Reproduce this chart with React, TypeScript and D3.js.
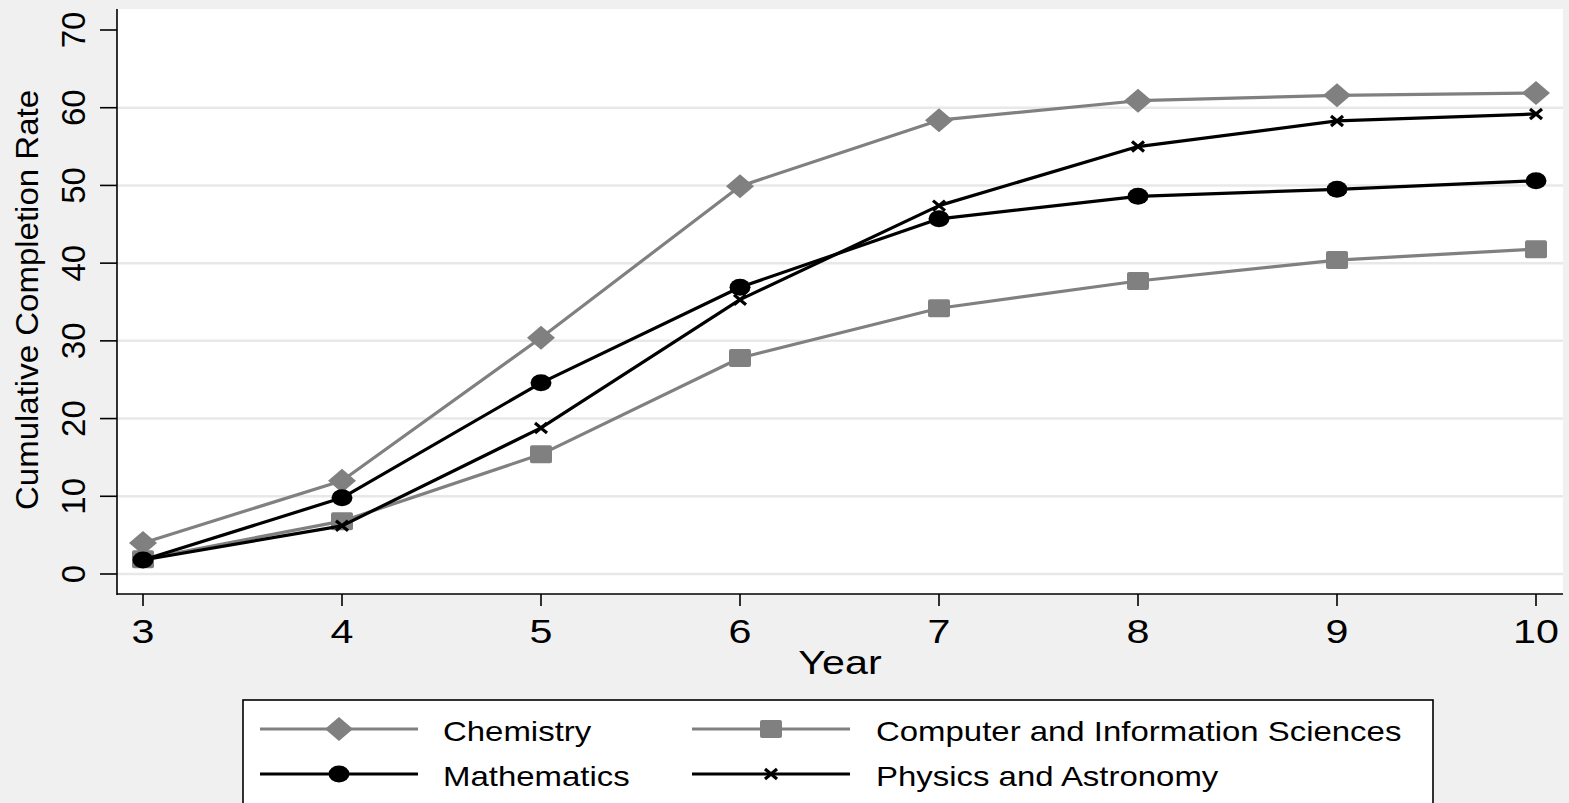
import React from 'react';
import * as d3 from 'd3';

const years = [3, 4, 5, 6, 7, 8, 9, 10];
const chemistry = [4.0, 12.0, 30.4, 49.9, 58.4, 60.9, 61.6, 61.9];
const computerSci = [1.9, 6.8, 15.4, 27.8, 34.2, 37.7, 40.4, 41.8];
const mathematics = [1.8, 9.8, 24.6, 36.9, 45.7, 48.6, 49.5, 50.6];
const physics = [1.8, 6.2, 18.8, 35.3, 47.4, 55.0, 58.3, 59.2];
const yTicks = [0, 10, 20, 30, 40, 50, 60, 70];
const gridTicks = [0, 10, 20, 30, 40, 50, 60];

type Marker = 'diamond' | 'square' | 'circle' | 'cross';

interface Series {
  name: string;
  values: number[];
  color: string;
  marker: Marker;
}

const series: Series[] = [
  { name: 'Chemistry', values: chemistry, color: '#808080', marker: 'diamond' },
  { name: 'Computer and Information Sciences', values: computerSci, color: '#808080', marker: 'square' },
  { name: 'Mathematics', values: mathematics, color: '#000000', marker: 'circle' },
  { name: 'Physics and Astronomy', values: physics, color: '#000000', marker: 'cross' },
];

const W = 1569;
const H = 803;
const plot = { left: 117, right: 1563, top: 9, bottom: 594 };
const FONT = '"Liberation Sans", Arial, Helvetica, sans-serif';
const SX = 1.25; // horizontal stretch of the original picture

function MarkerShape({ type, x, y, color }: { type: Marker; x: number; y: number; color: string }) {
  if (type === 'diamond') {
    return <path d={`M${x - 14},${y} L${x},${y - 12} L${x + 14},${y} L${x},${y + 12} Z`} fill={color} />;
  }
  if (type === 'square') {
    return <rect x={x - 11} y={y - 9} width={22} height={18} rx={2} fill={color} />;
  }
  if (type === 'circle') {
    return <ellipse cx={x} cy={y} rx={10.5} ry={8.5} fill={color} />;
  }
  return (
    <path
      d={`M${x - 6},${y - 5} L${x + 6},${y + 5} M${x - 6},${y + 5} L${x + 6},${y - 5}`}
      stroke={color}
      strokeWidth={3.2}
      fill="none"
    />
  );
}

export default function App() {
  const x = d3.scaleLinear().domain([3, 10]).range([143, 1536]);
  const y = d3.scaleLinear().domain([0, 70]).range([574, 30]);

  const line = d3
    .line<number>()
    .x((_, i) => x(years[i]))
    .y((d) => y(d));

  const legendRows = [
    { col: 0, row: 0 },
    { col: 1, row: 0 },
    { col: 0, row: 1 },
    { col: 1, row: 1 },
  ];
  const legendCols = [
    { lineX0: 260, lineX1: 418, textX: 443 },
    { lineX0: 692, lineX1: 850, textX: 876 },
  ];
  const legendRowY = [729, 774];

  return (
    <svg
      width={W}
      height={H}
      style={{ position: 'absolute', left: 0, top: 0, fontFamily: FONT }}
    >
      <rect x={0} y={0} width={W} height={H} fill="#f0f0f0" />
      <rect x={plot.left} y={plot.top} width={plot.right - plot.left} height={plot.bottom - plot.top} fill="#ffffff" />

      {/* grid */}
      {gridTicks.map((t) => (
        <line key={t} x1={plot.left} x2={plot.right} y1={y(t)} y2={y(t)} stroke="#e8e8e8" strokeWidth={2.5} />
      ))}

      {/* axes */}
      <line x1={plot.left} x2={plot.left} y1={plot.top} y2={plot.bottom + 1} stroke="#000" strokeWidth={1.6} />
      <line x1={plot.left} x2={plot.right} y1={plot.bottom} y2={plot.bottom} stroke="#000" strokeWidth={1.6} />

      {yTicks.map((t) => (
        <g key={t}>
          <line x1={100} x2={plot.left} y1={y(t)} y2={y(t)} stroke="#000" strokeWidth={1.6} />
          <text
            transform={`translate(85,${y(t)}) rotate(-90)`}
            textAnchor="middle"
            fontSize={33}
            fill="#000"
          >
            {t}
          </text>
        </g>
      ))}

      {years.map((yr) => (
        <g key={yr}>
          <line x1={x(yr)} x2={x(yr)} y1={plot.bottom} y2={plot.bottom + 12} stroke="#000" strokeWidth={1.6} />
          <text
            transform={`translate(${x(yr)},643) scale(${SX},1)`}
            textAnchor="middle"
            fontSize={33}
            fill="#000"
          >
            {yr}
          </text>
        </g>
      ))}

      <text transform={`translate(840,674) scale(${SX},1)`} textAnchor="middle" fontSize={33} fill="#000">
        Year
      </text>
      <text
        transform="translate(38,300) rotate(-90)"
        textAnchor="middle"
        fontSize={32}
        textLength={420}
        lengthAdjust="spacingAndGlyphs"
        fill="#000"
      >
        Cumulative Completion Rate
      </text>

      {/* series */}
      {series.map((s) => (
        <g key={s.name}>
          <path d={line(s.values) || ''} fill="none" stroke={s.color} strokeWidth={3.2} strokeLinejoin="round" />
          {s.values.map((v, i) => (
            <MarkerShape key={i} type={s.marker} x={x(years[i])} y={y(v)} color={s.color} />
          ))}
        </g>
      ))}

      {/* legend */}
      <rect x={243} y={700} width={1190} height={130} fill="#ffffff" stroke="#000" strokeWidth={1.6} />
      {series.map((s, i) => {
        const { col, row } = legendRows[i];
        const c = legendCols[col];
        const ly = legendRowY[row];
        const mx = (c.lineX0 + c.lineX1) / 2;
        return (
          <g key={s.name}>
            <line x1={c.lineX0} x2={c.lineX1} y1={ly} y2={ly} stroke={s.color} strokeWidth={3.2} />
            <MarkerShape type={s.marker} x={mx} y={ly} color={s.color} />
            <text
              transform={`translate(${c.textX},${ly + 12}) scale(1.22,1)`}
              fontSize={27}
              fill="#000"
            >
              {s.name}
            </text>
          </g>
        );
      })}
    </svg>
  );
}
